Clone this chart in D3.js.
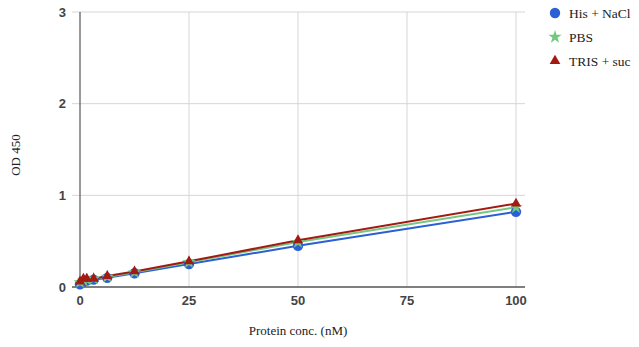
<!DOCTYPE html>
<html>
<head>
<meta charset="utf-8">
<script src="https://cdn.jsdelivr.net/npm/d3@7"></script>
<style>
  html, body { margin: 0; padding: 0; background: #fff; }
  svg { display: block; }
</style>
</head>
<body>
<svg id="chart" width="639" height="347"></svg>
<script>
// Protein concentrations (nM) of the dilution series
const concentrations = [0, 0.78, 1.56, 3.13, 6.25, 12.5, 25, 50, 100];
// OD 450 readings for each buffer
const hisNaCl = [0.03, 0.06, 0.07, 0.08, 0.10, 0.15, 0.25, 0.45, 0.82];
const pbs     = [0.05, 0.07, 0.08, 0.09, 0.11, 0.16, 0.27, 0.49, 0.87];
const trisSuc = [0.06, 0.09, 0.09, 0.09, 0.12, 0.17, 0.28, 0.51, 0.91];
const seriesNames = ["His + NaCl", "PBS", "TRIS + suc"];
const xTicks = [0, 25, 50, 75, 100];
const yTicks = [0, 1, 2, 3];

const colors = ["#2b5fd6", "#74c77f", "#a31a12"];
const shapes = [d3.symbolCircle, d3.symbolStar, d3.symbolTriangle];
const shapeSizes = [85, 55, 45];
const legendSizes = [85, 55, 50];

const svg = d3.select("#chart");
const x = d3.scaleLinear().domain([0, 100]).range([80, 516]);
const y = d3.scaleLinear().domain([0, 3]).range([287, 12]);

const sansFont = "Arial, 'Liberation Sans', sans-serif";
const serifFont = "'Times New Roman', 'Liberation Serif', serif";

// horizontal gridlines
svg.append("g").selectAll("line").data(yTicks.filter(d => d > 0)).join("line")
  .attr("x1", 72).attr("x2", 525)
  .attr("y1", d => y(d)).attr("y2", d => y(d))
  .attr("stroke", "#d6d6d6").attr("stroke-width", 1);

// vertical gridlines
svg.append("g").selectAll("line").data(xTicks.filter(d => d > 0)).join("line")
  .attr("x1", d => x(d)).attr("x2", d => x(d))
  .attr("y1", y(3)).attr("y2", y(0))
  .attr("stroke", "#d6d6d6").attr("stroke-width", 1);

// baseline and left axis
svg.append("line").attr("x1", 72).attr("x2", 525)
  .attr("y1", y(0)).attr("y2", y(0))
  .attr("stroke", "#555").attr("stroke-width", 1.5);
svg.append("line").attr("x1", x(0)).attr("x2", x(0))
  .attr("y1", y(3)).attr("y2", y(0))
  .attr("stroke", "#555").attr("stroke-width", 1.2);

// tick labels
svg.append("g").selectAll("text").data(yTicks).join("text")
  .attr("x", 66).attr("y", d => y(d))
  .attr("dy", "0.36em").attr("text-anchor", "end")
  .attr("font-family", sansFont).attr("font-size", 13).attr("font-weight", "bold")
  .attr("fill", "#444").text(d => d);
svg.append("g").selectAll("text").data(xTicks).join("text")
  .attr("x", d => x(d)).attr("y", 305)
  .attr("text-anchor", "middle")
  .attr("font-family", sansFont).attr("font-size", 13).attr("font-weight", "bold")
  .attr("fill", "#444").text(d => d);

// axis titles
svg.append("text").attr("x", 298).attr("y", 335)
  .attr("text-anchor", "middle").attr("font-family", serifFont)
  .attr("font-size", 13).attr("fill", "#222").text("Protein conc. (nM)");
svg.append("text")
  .attr("transform", "translate(20,155) rotate(-90)")
  .attr("text-anchor", "middle").attr("font-family", serifFont)
  .attr("font-size", 13).attr("fill", "#222").text("OD 450");

// series lines and markers
const allSeries = [hisNaCl, pbs, trisSuc];
const line = d3.line().x(d => x(d[0])).y(d => y(d[1]));

allSeries.forEach((vals, i) => {
  const pts = concentrations.map((c, j) => [c, vals[j]]);
  svg.append("path").datum(pts)
    .attr("d", line).attr("fill", "none")
    .attr("stroke", colors[i]).attr("stroke-width", 2);
});
allSeries.forEach((vals, i) => {
  const pts = concentrations.map((c, j) => [c, vals[j]]);
  svg.append("g").selectAll("path").data(pts).join("path")
    .attr("transform", d => `translate(${x(d[0])},${y(d[1])})`)
    .attr("d", d3.symbol().type(shapes[i]).size(shapeSizes[i]))
    .attr("fill", colors[i]);
});

// legend
const legend = svg.append("g");
seriesNames.forEach((name, i) => {
  const ly = 13 + i * 24;
  legend.append("path")
    .attr("transform", `translate(555,${ly})`)
    .attr("d", d3.symbol().type(shapes[i]).size(legendSizes[i]))
    .attr("fill", colors[i]);
  legend.append("text").attr("x", 569).attr("y", ly)
    .attr("dy", "0.35em").attr("font-family", serifFont)
    .attr("font-size", 13.5).attr("fill", "#222").text(name);
});
</script>
</body>
</html>
